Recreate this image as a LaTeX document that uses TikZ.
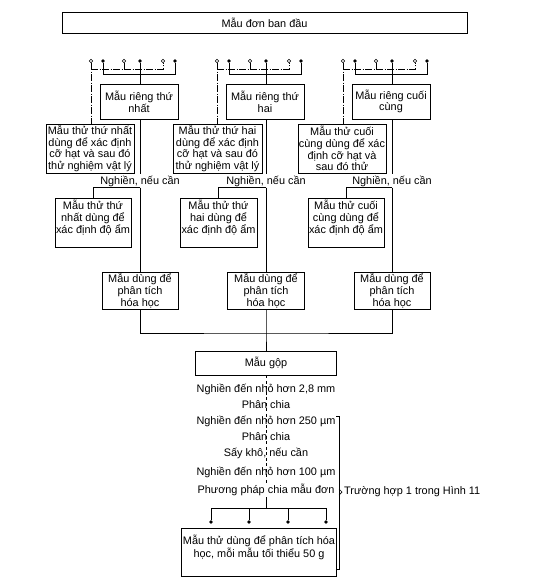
\documentclass[tikz,border=0pt]{standalone}
\usepackage{fontspec}
\setmainfont{Liberation Sans}
\usetikzlibrary{shapes,arrows}

\begin{document}
\begin{tikzpicture}[x=1pt, y=-1pt, font=\fontsize{10.9}{11.7}\selectfont]

% Kieu hinh
\tikzstyle{hop} = [rectangle, draw=black, line width=0.9pt, align=center, inner sep=1pt]
\tikzstyle{nhan} = [inner sep=1pt, align=center]
\tikzstyle{rong} = [circle, draw=black, fill=white, inner sep=0pt, minimum size=3.6pt, line width=0.6pt]
\tikzstyle{dac} = [circle, fill=black, inner sep=0pt, minimum size=3.6pt]
\tikzstyle{duong} = [line width=0.7pt]
\tikzstyle{chamgach} = [line width=0.7pt, dash pattern=on 7pt off 1.5pt on 1pt off 1.5pt]
\tikzstyle{gach} = [line width=0.7pt, dash pattern=on 3pt off 2.5pt]

\useasboundingbox (0,0) rectangle (553,586);

% Cac hop
\node (dau) [hop, minimum width=405pt, minimum height=21pt] at (264.5,22.5) {Mẫu đơn ban đầu};

\node (rieng1) [hop, minimum width=78pt, minimum height=35pt] at (139,101.5) {Mẫu riêng thứ\\nhất};
\node (rieng2) [hop, minimum width=78pt, minimum height=35pt] at (265,101.5) {Mẫu riêng thứ\\hai};
\node (rieng3) [hop, minimum width=78pt, minimum height=35pt] at (391,101.5) {Mẫu riêng cuối\\cùng};

\node (thu1) [hop, minimum width=88pt, minimum height=49pt] at (90,148.5) {Mẫu thử thứ nhất\\dùng để xác định\\cỡ hạt và sau đó\\thử nghiệm vật lý};
\node (thu2) [hop, minimum width=89pt, minimum height=49pt] at (217.5,148.5) {Mẫu thử thứ hai\\dùng để xác định\\cỡ hạt và sau đó\\thử nghiệm vật lý};
\node (thu3) [hop, minimum width=88pt, minimum height=49pt] at (342,148.5) {Mẫu thử cuối\\cùng dùng để xác\\định cỡ hạt và\\sau đó thử};

\node (nghien1) [nhan] at (140,181) {Nghiền, nếu cần};
\node (nghien2) [nhan] at (266,181) {Nghiền, nếu cần};
\node (nghien3) [nhan] at (392,181) {Nghiền, nếu cần};

\node (am1) [hop, minimum width=76pt, minimum height=49pt] at (93,222.5) {Mẫu thử thứ\\nhất dùng để\\xác định độ ẩm\\~};
\node (am2) [hop, minimum width=77pt, minimum height=49pt] at (218.5,222.5) {Mẫu thử thứ\\hai dùng để\\xác định độ ẩm\\~};
\node (am3) [hop, minimum width=76pt, minimum height=49pt] at (346,222.5) {Mẫu thử cuối\\cùng dùng để\\xác định độ ẩm\\~};

\node (hoa1) [hop, minimum width=76pt, minimum height=37pt] at (140,290.5) {Mẫu dùng để\\phân tích\\hóa học};
\node (hoa2) [hop, minimum width=77pt, minimum height=37pt] at (266,290.5) {Mẫu dùng để\\phân tích\\hóa học};
\node (hoa3) [hop, minimum width=76pt, minimum height=37pt] at (392,290.5) {Mẫu dùng để\\phân tích\\hóa học};

\node (gop) [hop, minimum width=141pt, minimum height=24pt] at (266,363) {Mẫu gộp};

\node (b1) [nhan] at (266,389) {Nghiền đến nhỏ hơn 2,8 mm};
\node (b2) [nhan] at (266,405) {Phân chia};
\node (b3) [nhan] at (266,421) {Nghiền đến nhỏ hơn 250 µm};
\node (b4) [nhan] at (266,437) {Phân chia};
\node (b5) [nhan] at (266,453) {Sấy khô, nếu cần};
\node (b6) [nhan] at (266,472) {Nghiền đến nhỏ hơn 100 µm};
\node (b7) [nhan] at (266,490) {Phương pháp chia mẫu đơn};

\node (cuoi) [hop, minimum width=154pt, minimum height=48pt] at (259,552) {Mẫu thử dùng để phân tích hóa\\học, mỗi mẫu tối thiểu 50 g\\~};

\node (truonghop) [nhan, anchor=west] at (343,492) {Trường hợp 1 trong Hình 11};

% Dau noi
\node (t1a) [rong] at (91,61) {}; \node (t1b) [dac] at (103,61) {}; \node (t1c) [rong] at (124,61) {};
\node (t1d) [dac] at (140,61) {}; \node (t1e) [rong] at (163,61) {}; \node (t1f) [dac] at (175,61) {};
\node (t2a) [rong] at (217,61) {}; \node (t2b) [dac] at (229,61) {}; \node (t2c) [rong] at (250,61) {};
\node (t2d) [dac] at (266,61) {}; \node (t2e) [rong] at (289,61) {}; \node (t2f) [dac] at (301,61) {};
\node (t3a) [rong] at (343,61) {}; \node (t3b) [dac] at (355,61) {}; \node (t3c) [rong] at (376,61) {};
\node (t3d) [dac] at (392,61) {}; \node (t3e) [rong] at (415,61) {}; \node (t3f) [dac] at (427,61) {};

\node (d1) [dac] at (211,522) {}; \node (d2) [dac] at (249,522) {};
\node (d3) [dac] at (288,522) {}; \node (d4) [dac] at (326,522) {};

\coordinate (tren) at (0,69);
\coordinate (duoi) at (0,74);
\coordinate (noi) at (266,333);
\coordinate (luoc) at (0,508);

% Duong noi
\draw [chamgach] (t1a) -- (t1a |- thu1.north);
\draw [chamgach] (t1a |- tren) -| (t1e);
\draw [duong] (t1c) -- (t1c |- tren);
\draw [duong] (t1b) -- (t1b |- duoi) -| (t1f);
\draw [duong] (t1d) -- (t1d |- rieng1.north);
\draw [duong] (t1d |- rieng1.south) -- (nghien1);
\draw [duong] (nghien1) -- (hoa1);
\draw [duong] (nghien1.south) -| (am1);

\draw [chamgach] (t2a) -- (t2a |- thu2.north);
\draw [chamgach] (t2a |- tren) -| (t2e);
\draw [duong] (t2c) -- (t2c |- tren);
\draw [duong] (t2b) -- (t2b |- duoi) -| (t2f);
\draw [duong] (t2d) -- (t2d |- rieng2.north);
\draw [duong] (t2d |- rieng2.south) -- (nghien2);
\draw [duong] (nghien2) -- (hoa2);
\draw [duong] (nghien2.south) -| (am2);

\draw [chamgach] (t3a) -- (t3a |- thu3.north);
\draw [chamgach] (t3a |- tren) -| (t3e);
\draw [duong] (t3c) -- (t3c |- tren);
\draw [duong] (t3b) -- (t3b |- duoi) -| (t3f);
\draw [duong] (t3d) -- (t3d |- rieng3.north);
\draw [duong] (t3d |- rieng3.south) -- (nghien3);
\draw [duong] (nghien3) -- (hoa3);
\draw [duong] (nghien3.south) -| (am3);

\draw [duong] (hoa1) |- (noi) -| (hoa3);
\draw [duong] (hoa2) -- (noi) -- (gop);

\draw [gach] (gop) -- (b7);
\draw [duong] (b7) -- (b7 |- luoc);
\draw [duong] (d1) -- (d1 |- luoc) -| (d4);
\draw [duong] (d2) -- (d2 |- luoc);
\draw [duong] (d3) -- (d3 |- luoc);

% Ngoac
\draw [duong] (336,416) -- (339,416) -- (339,569) -- (336,569);
\draw [duong] (339,489) -- (342,492) -- (339,495);

\end{tikzpicture}
\end{document}
